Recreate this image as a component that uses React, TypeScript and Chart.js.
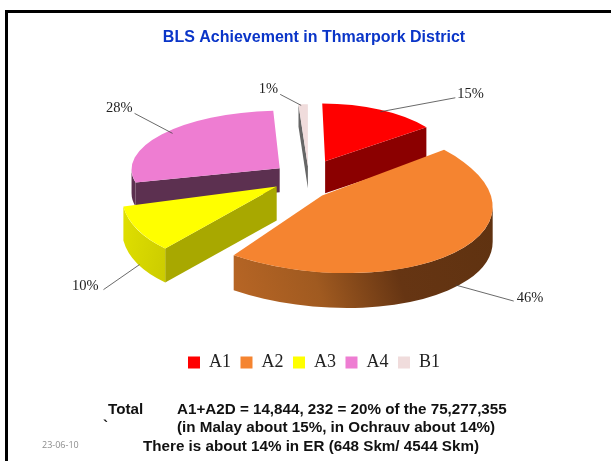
import React, { useEffect, useRef } from "react";
import { Chart, registerables } from "chart.js";

Chart.register(...registerables);

const categories = ["A1", "A2", "A3", "A4", "B1"];
const shares = [15, 46, 10, 28, 1];
const topColors = ["#FF0000", "#F58430", "#FFFF00", "#EE7DD2", "#F0DCDC"];
const faceColors = ["#8B0000", "#6A3714", "#A8A800", "#5C3050", "#666666"];
const titleText = "BLS Achievement in Thmarpork District";
const noteLines = [
  { text: "Total", x: 108, y: 410 },
  { text: "A1+A2D = 14,844, 232 = 20% of the 75,277,355", x: 177, y: 410 },
  { text: "`", x: 103, y: 427 },
  { text: "(in Malay about 15%, in Ochrauv about 14%)", x: 177, y: 428 },
  { text: "There is about 14% in ER (648 Skm/ 4544 Skm)", x: 143, y: 447 },
];
const dateText = "23-06-10";

// Exploded, tilted presentation of each slice, as fractions of the pie radius.
const explodeX = [0.078, 0.057, -0.262, -0.241, -0.043];
const explodeY = [-0.284, -0.043, -0.106, -0.234, -0.248];
const radiusX = [0.894, 1.185, 1.08, 1.04, 1.05];
const radiusY = [0.405, 0.545, 0.565, 0.405, 0.435];
const depths = [0.225, 0.245, 0.238, 0.168, 0.154];
const shears = [0.05, 0.32, -0.217, -0.05, 0];
const paintOrder = [4, 3, 2, 0, 1];

// Leader lines: offsets in pixels from the point on the slice rim at mid angle.
const leaderFrom = [[0, 2], [0, 33], [2, 35], [11, -1], [-2, 1]];
const leaderTo = [[75, -12], [58, 49], [-34, 60], [-27, -21], [-23, -10]];
const labelAt = [[77, -16], [61, 46], [-39, 57], [-29, -26], [-25, -15]];
const labelAlign = ["left", "left", "right", "right", "right"];

const geometry = (arc: any, i: number) => {
  const R = arc.outerRadius;
  return {
    R,
    cx: arc.x + explodeX[i] * R,
    cy: arc.y + explodeY[i] * R,
    rx: radiusX[i] * R,
    ry: radiusY[i] * R,
    d: depths[i] * R,
    s: shears[i],
  };
};

const wallFill = (ctx: CanvasRenderingContext2D, g: any, i: number) => {
  if (i === 1) {
    const grad = ctx.createLinearGradient(-g.rx, 0, g.rx, 0);
    grad.addColorStop(0, "#C46C28");
    grad.addColorStop(0.4, "#A05A20");
    grad.addColorStop(0.65, "#663513");
    grad.addColorStop(1, "#5F3210");
    return grad;
  }
  if (i === 2) {
    const grad = ctx.createLinearGradient(-g.rx, 0, -g.rx * 0.6, 0);
    grad.addColorStop(0, "#E2E200");
    grad.addColorStop(1, "#CCCC00");
    return grad;
  }
  return faceColors[i];
};

const pie3d = {
  id: "pie3d",
  beforeDatasetDraw(chart: any) {
    const ctx: CanvasRenderingContext2D = chart.ctx;
    const arcs = chart.getDatasetMeta(0).data;
    for (const i of paintOrder) {
      const arc = arcs[i];
      const g = geometry(arc, i);
      const a0 = arc.startAngle;
      const a1 = arc.endAngle;
      const bx = -g.s * g.d;
      const by = g.d;
      ctx.save();
      ctx.translate(g.cx, g.cy);
      ctx.transform(1, 0, g.s, 1, 0, 0);
      const edge = (a: number) => {
        const px = g.rx * Math.cos(a);
        const py = g.ry * Math.sin(a);
        ctx.beginPath();
        ctx.moveTo(0, 0);
        ctx.lineTo(px, py);
        ctx.lineTo(px + bx, py + by);
        ctx.lineTo(bx, by);
        ctx.closePath();
        ctx.fillStyle = faceColors[i];
        ctx.fill();
      };
      if (-Math.cos(a0) > 0.01) edge(a0);
      if (Math.cos(a1) > 0.01) edge(a1);
      const phi = Math.atan2(g.s * g.ry, g.rx);
      const s = Math.max(a0, phi);
      const e = Math.min(a1, Math.PI + phi);
      if (e > s) {
        ctx.beginPath();
        ctx.ellipse(0, 0, g.rx, g.ry, 0, s, e);
        ctx.ellipse(bx, by, g.rx, g.ry, 0, e, s, true);
        ctx.closePath();
        ctx.fillStyle = wallFill(ctx, g, i);
        ctx.fill();
      }
      ctx.scale(g.rx / g.R, g.ry / g.R);
      ctx.translate(-arc.x, -arc.y);
      arc.draw(ctx);
      ctx.restore();
    }
    return false;
  },
  afterDatasetsDraw(chart: any) {
    const ctx: CanvasRenderingContext2D = chart.ctx;
    const arcs = chart.getDatasetMeta(0).data;
    ctx.save();
    arcs.forEach((arc: any, i: number) => {
      const g = geometry(arc, i);
      const mid = (arc.startAngle + arc.endAngle) / 2;
      const ax = g.cx + g.rx * Math.cos(mid) + g.s * g.ry * Math.sin(mid);
      const ay = g.cy + g.ry * Math.sin(mid);
      ctx.beginPath();
      ctx.moveTo(ax + leaderFrom[i][0], ay + leaderFrom[i][1]);
      ctx.lineTo(ax + leaderTo[i][0], ay + leaderTo[i][1]);
      ctx.strokeStyle = "#444444";
      ctx.lineWidth = 0.8;
      ctx.stroke();
      ctx.fillStyle = "#222222";
      ctx.font = '14.5px "Liberation Serif"';
      ctx.textAlign = labelAlign[i] as CanvasTextAlign;
      ctx.textBaseline = "middle";
      ctx.fillText(`${shares[i]}%`, ax + labelAt[i][0], ay + labelAt[i][1]);
    });
    ctx.restore();
  },
  afterDraw(chart: any) {
    const ctx: CanvasRenderingContext2D = chart.ctx;
    ctx.save();
    ctx.fillStyle = "#000000";
    ctx.fillRect(5, 10, 606, 3);
    ctx.fillRect(5, 10, 3, 451);
    ctx.textAlign = "left";
    ctx.textBaseline = "middle";
    ctx.font = 'bold 15.2px "Liberation Sans"';
    ctx.fillStyle = "#111111";
    noteLines.forEach((n) => ctx.fillText(n.text, n.x, n.y));
    ctx.font = '9px "Open Sans"';
    ctx.fillStyle = "#8C8C8C";
    ctx.fillText(dateText, 42, 445);
    ctx.restore();
  },
};

export default function App() {
  const ref = useRef<HTMLCanvasElement>(null);
  useEffect(() => {
    document.body.style.margin = "0";
    const chart = new Chart(ref.current!, {
      type: "pie",
      data: {
        labels: categories,
        datasets: [{ data: shares, backgroundColor: topColors, borderWidth: 0, hoverOffset: 0 }],
      },
      options: {
        responsive: false,
        animation: false,
        layout: { padding: { top: 0, bottom: 79.5, left: 17, right: 0 } },
        plugins: {
          tooltip: { enabled: false },
          title: {
            display: true,
            text: titleText,
            color: "#0A35C8",
            font: { family: '"Liberation Sans"', size: 16, weight: "bold" },
            padding: { top: 28, bottom: 12 },
          },
          legend: {
            position: "bottom",
            onClick: () => {},
            labels: {
              boxWidth: 12,
              boxHeight: 12,
              padding: 9.5,
              color: "#222222",
              font: { family: '"Liberation Serif"', size: 18 },
            },
          },
        },
      },
      plugins: [pie3d],
    } as any);
    return () => chart.destroy();
  }, []);
  return <canvas ref={ref} width={611} height={461} style={{ display: "block" }} />;
}
